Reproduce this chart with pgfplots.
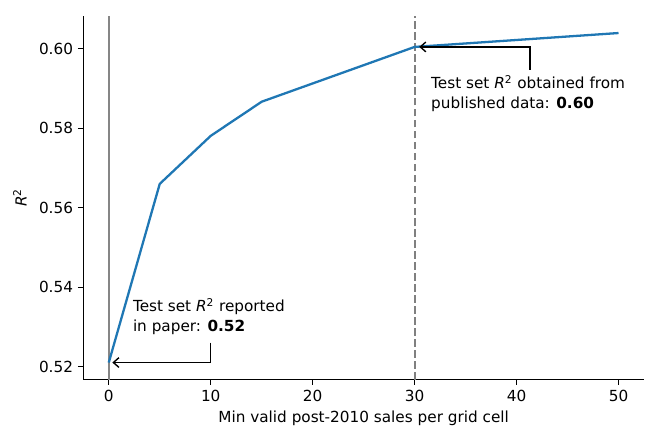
\documentclass[border=0pt]{standalone}
\usepackage{pgfplots}
\pgfplotsset{compat=1.18}
\usetikzlibrary{arrows.meta}
\usepackage{fontspec}
\setmainfont{DejaVu Sans}
\definecolor{mplblue}{HTML}{1F77B4}
\begin{document}
\begin{tikzpicture}
\begin{axis}[
  scale only axis,
  width=404pt, height=262pt,
  xmin=-2.5, xmax=52.5,
  ymin=0.5167, ymax=0.6083,
  axis x line*=bottom, axis y line*=left,
  axis line style={line width=0.7pt, -},
  tick align=outside,
  major tick length=3.85pt,
  tick style={line width=0.7pt, black},
  xtick={0,10,20,30,40,50},
  ytick={0.52,0.54,0.56,0.58,0.60},
  yticklabel style={/pgf/number format/.cd, fixed, fixed zerofill, precision=2},
  /pgf/number format/assume math mode=true,
  ticklabel style={font=\fontsize{11}{13}\selectfont},
  xlabel={Min valid post-2010 sales per grid cell},
  ylabel={\textit{R}\textsuperscript{2}},
  label style={font=\fontsize{11}{13}\selectfont},
  xlabel style={yshift=0pt},
  ylabel style={yshift=2pt},
  clip=false,
]
\coordinate (sw) at (rel axis cs:0,0);
\coordinate (ne) at (rel axis cs:1,1);
\addplot[gray!95, line width=1.55pt] coordinates {(0,0.5167) (0,0.6083)};
\addplot[gray, line width=1.55pt, dash pattern=on 5.5pt off 2.4pt] coordinates {(30,0.5167) (30,0.6083)};
\addplot[mplblue, line width=1.65pt] coordinates {
(0,0.521) (5,0.566) (10,0.5781) (15,0.5867) (30,0.6005) (50,0.604)
};
\draw[-{Straight Barb[length=4pt,width=7pt]}, line width=1pt, black] (axis cs:10,0.526) -- (axis cs:10,0.5210) -- (axis cs:0.35,0.5210);
\draw[-{Straight Barb[length=4pt,width=7pt]}, line width=1pt, black] (axis cs:41.3,0.5947) -- (axis cs:41.3,0.6005) -- (axis cs:30.45,0.6005);
\node[anchor=west, align=left, inner sep=0pt, font=\fontsize{11}{14.4}\selectfont] at (axis cs:2.35,0.5326) {Test set \textit{R}\textsuperscript{2} reported\\in paper: \textbf{0.52}};
\node[anchor=west, align=left, inner sep=0pt, font=\fontsize{11}{14.4}\selectfont] at (axis cs:31.6,0.5888) {Test set \textit{R}\textsuperscript{2} obtained from\\published data: \textbf{0.60}};
\end{axis}
\pgfresetboundingbox
\path ([shift={(-60pt,-45.4pt)}]sw) rectangle ([shift={(14.4pt,11.5pt)}]ne);
\end{tikzpicture}
\end{document}
